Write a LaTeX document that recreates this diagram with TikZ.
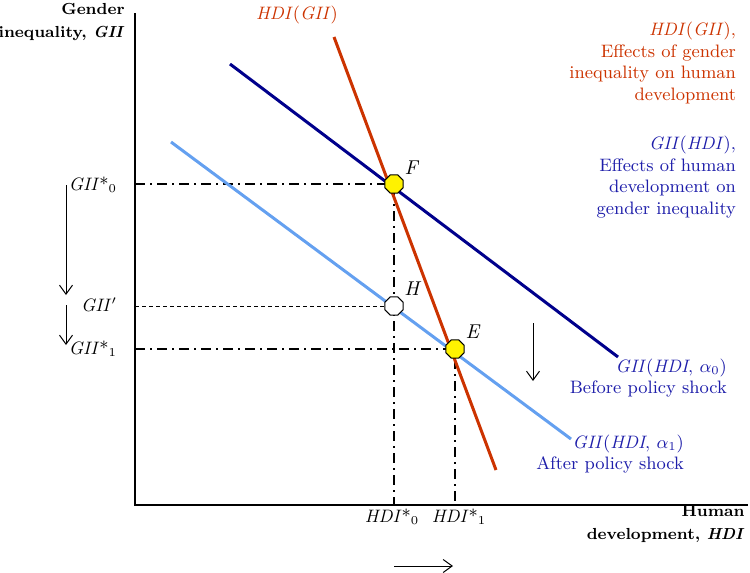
\documentclass[tikz,border=0pt]{standalone}
\usetikzlibrary{shapes.geometric,arrows.meta}
\definecolor{hdired}{RGB}{204,51,0}
\definecolor{giinavy}{RGB}{0,0,140}
\definecolor{giisky}{RGB}{100,160,240}
\definecolor{legblue}{RGB}{30,30,170}
\tikzset{
  txt/.style={font=\fontsize{9}{10.8}\selectfont},
  axlabel/.style={align=right,anchor=east,inner xsep=0pt,font=\fontsize{8}{11.5}\selectfont\bfseries},
  eqpt/.style={regular polygon,regular polygon sides=8,draw=black,line width=0.5pt,fill=yellow,minimum size=9.8pt,inner sep=0pt},
  guide/.style={line width=1pt,dash pattern=on 5pt off 2.5pt on 1pt off 2.5pt},
  movearrow/.style={-{Straight Barb[length=4.5pt,width=6.5pt]},line width=0.5pt},
  curve/.style={line width=1.5pt}
}
\begin{document}
\begin{tikzpicture}[x=0.5pt,y=-0.5pt]
\useasboundingbox (0,0) rectangle (750,573);
\coordinate (O) at (135,505);
\coordinate (ytop) at (135,13);
\coordinate (xend) at (748,505);
\coordinate (F) at (394,184);
\coordinate (H) at (394,306);
\coordinate (E) at (455,349);
\draw[line width=1pt] (ytop) -- (O) -- (xend);
\draw[guide] (O |- F) -- (F) -- (F |- O);
\draw[guide] (O |- E) -- (E) -- (E |- O);
\draw[line width=0.5pt,dash pattern=on 2pt off 1.5pt] (O |- H) -- (H);
\draw[curve,giinavy] (230,64) -- (618,357);
\draw[curve,giisky] (171,142) -- (571,439);
\draw[curve,hdired] (334,37) -- (496,470);
\node[eqpt] (eqF) at (F) {};
\node[eqpt,fill=white] (eqH) at (H) {};
\node[eqpt] (eqE) at (E) {};
\node[txt,font=\fontsize{10}{12}\selectfont] (lblF) at (412,168) {\textit{F}};
\node[txt,font=\fontsize{10}{12}\selectfont] (lblH) at (413,289) {\textit{H}};
\node[txt,font=\fontsize{10}{12}\selectfont] (lblE) at (473,332) {\textit{E}};
\node[axlabel] (ylab) at (125,22) {Gender\\inequality, \textit{GII}};
\node[axlabel] (xlab) at (745,524) {Human\\development, \textit{HDI}};
\node[txt,anchor=east] (gii0) at (124,185) {\textit{GII}*\textsubscript{0}};
\node[txt,anchor=east] (giip) at (124,305) {\textit{GII}$'$};
\node[txt,anchor=east] (gii1) at (124,349) {\textit{GII}*\textsubscript{1}};
\node[txt] (hdi0) at (392,517) {\textit{HDI}*\textsubscript{0}};
\node[txt] (hdi1) at (459,517) {\textit{HDI}*\textsubscript{1}};
\node[txt,text=hdired] (hdicurve) at (297,15) {\textit{HDI}(\textit{GII})};
\node[txt,text=hdired,align=right,anchor=east] (redleg) at (743,63) {\textit{HDI}(\textit{GII}),\\Effects of gender\\inequality on human\\development};
\node[txt,text=legblue,align=right,anchor=east] (blueleg) at (743,177) {\textit{GII}(\textit{HDI}),\\Effects of human\\development on\\gender inequality};
\node[txt,text=legblue,align=right,anchor=east] (before) at (734,378) {\textit{GII}(\textit{HDI}, $\alpha_0$)\\Before policy shock};
\node[txt,text=legblue,align=right,anchor=east] (after) at (691,454) {\textit{GII}(\textit{HDI}, $\alpha_1$)\\After policy shock};
\draw[movearrow] (66,185) -- (66,295);
\draw[movearrow] (66,305) -- (66,345);
\draw[movearrow] (533,323) -- (533,381);
\draw[movearrow] (394,566) -- (453,566);
\end{tikzpicture}
\end{document}
